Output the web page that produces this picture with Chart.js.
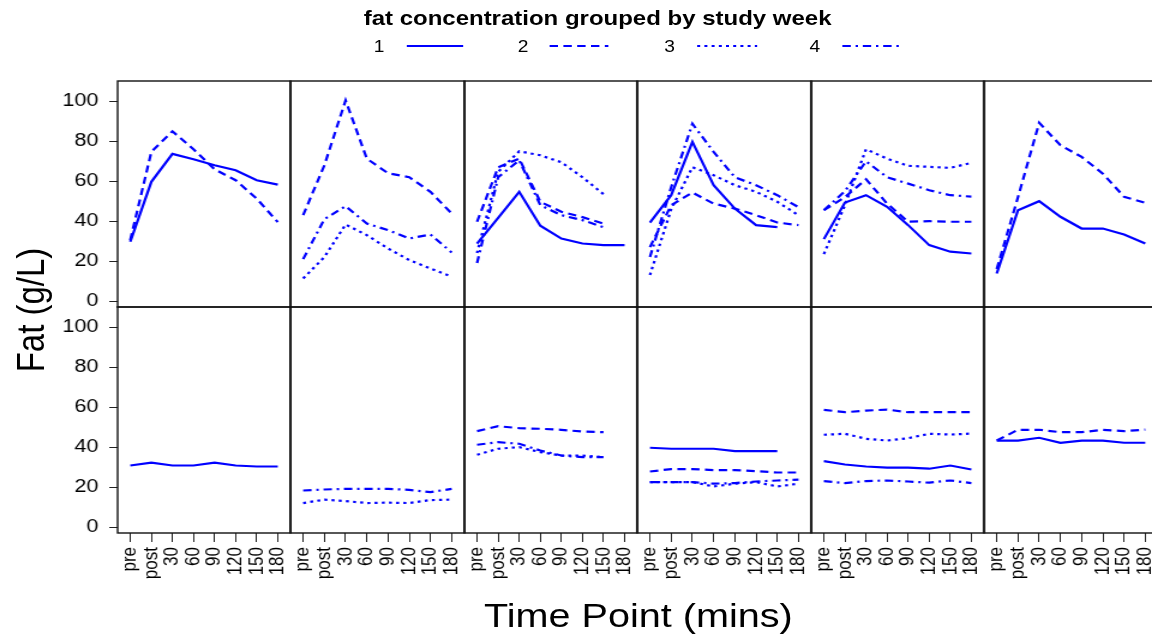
<!DOCTYPE html>
<html>
<head>
<meta charset="utf-8">
<script src="https://cdn.jsdelivr.net/npm/chart.js@4/dist/chart.umd.min.js"></script>
<style>
  html, body { margin: 0; padding: 0; background: #fff; }
  body { width: 1152px; height: 641px; overflow: hidden; position: relative; }
  #fig {
    position: absolute; left: 0; top: 0; width: 960px; height: 641px;
    transform: scaleX(1.2); transform-origin: 0 0;
    font-family: "Liberation Sans", Arial, sans-serif;
  }
  .panel { position: absolute; }
  .panel canvas { display: block; }
  #overlay { position: absolute; left: 0; top: 0; }
</style>
</head>
<body>
<div id="fig">
  <svg id="overlay" width="960" height="641">
    <text x="498" y="25" text-anchor="middle" font-size="20" font-weight="bold">fat concentration grouped by study week</text>
    <g font-size="16" text-anchor="middle">
      <text x="316" y="52">1</text>
      <text x="436" y="52">2</text>
      <text x="558" y="52">3</text>
      <text x="679" y="52">4</text>
    </g>
    <g stroke="#0000ff" stroke-width="2.2" fill="none">
      <line x1="339" y1="46" x2="386" y2="46"/>
      <line x1="458" y1="46" x2="507" y2="46" stroke-dasharray="7 4.5"/>
      <line x1="581" y1="46" x2="631" y2="46" stroke-dasharray="2.5 3.5"/>
      <line x1="702" y1="46" x2="750" y2="46" stroke-dasharray="7 4 2 4"/>
    </g>
    <text transform="translate(37,310) rotate(-90)" text-anchor="middle" font-size="33">Fat (g/L)</text>
    <text x="532" y="627" text-anchor="middle" font-size="33">Time Point (mins)</text>
  </svg>
</div>
<script>
// time points along each panel's x axis
const timePoints = ["pre", "post", "30", "60", "90", "120", "150", "180"];
const weeks = ["1", "2", "3", "4"];
const yTicks = [0, 20, 40, 60, 80, 100];

// fat (g/L) per panel, one row per study week (null = week not sampled)
const top1 = [
  [29.7, 59.7, 73.7, 71, 68, 65.5, 60.5, 58.3],
  [30.5, 74.7, 85, 76, 66, 60.5, 51.3, 39.5],
  null,
  null
];
const top2 = [
  null,
  [43, 68, 100.5, 71.3, 64, 62, 54.7, 43.8],
  [11.3, 22, 38.3, 33, 26.3, 20.5, 16.3, 12.2],
  [21, 41, 47.5, 38.8, 35.5, 31.3, 33.3, 24.3]
];
const top3 = [
  [28.8, 41.7, 54.7, 37.7, 31.3, 28.8, 28, 28],
  [39.7, 67, 71.3, 49.7, 44.7, 42, 38.8, null],
  [24, 64.7, 75, 73, 69.5, 62, 53.5, null],
  [19, 62, 70.5, 48, 43, 40.5, 37, null]
];
const top4 = [
  [39.3, 53, 79.7, 58, 46.3, 38, 37, null],
  [27, 48, 54.3, 48.8, 46.3, 43, 39.3, 38],
  [13, 46, 67, 63, 58, 54.7, 49.7, 43],
  [22, 57, 88.8, 74.7, 62, 58, 53, 47]
];
const top5 = [
  [31, 49.3, 53, 47.2, 38, 28, 24.7, 23.8],
  [45.5, 52, 61, 48.8, 39.7, 40, 39.7, 39.7],
  [23.5, 48, 76, 71.3, 67.7, 67.2, 66.7, 69.2],
  [45.5, 55, 70, 62, 58.8, 55.5, 53, 52.3]
];
const top6 = [
  [13.8, 45.5, 50, 42.2, 36.3, 36.3, 33.3, 28.8],
  [16, 52, 89.3, 78, 72.2, 63.8, 52.2, 49.2],
  null,
  null
];
const bottom1 = [
  [30.8, 32.2, 30.8, 30.8, 32.2, 30.8, 30.3, 30.3],
  null,
  null,
  null
];
const bottom2 = [
  null,
  null,
  [12, 13.7, 13, 12, 12.2, 12, 13.5, 13.7],
  [18.3, 18.8, 19.1, 19.1, 19.1, 18.6, 17.5, 19.1]
];
const bottom3 = [
  null,
  [48, 50.5, 49.5, 49.2, 48.7, 47.8, 47.5, null],
  [36.2, 39.2, 40, 37.5, 35.8, 35.8, 35, null],
  [41.2, 42.5, 41.7, 38.3, 35.8, 35, 35, null]
];
const bottom4 = [
  [39.7, 39.2, 39.2, 39.2, 38, 38, 38, null],
  [27.8, 29, 29, 28.5, 28.5, 28, 27.3, 27.3],
  [22.5, 22.5, 22.5, 20.3, 21.7, 22.5, 20.3, 21.7],
  [22.5, 22.5, 22.5, 21.7, 22, 22.8, 23.3, 23.7]
];
const bottom5 = [
  [33, 31.3, 30.3, 29.7, 29.7, 29.2, 30.8, 28.8],
  [58.7, 57.5, 58.3, 58.8, 57.5, 57.5, 57.5, 57.5],
  [46.2, 46.7, 44.2, 43.3, 44.5, 46.7, 46.3, 46.8],
  [23, 22, 23, 23.3, 22.8, 22.2, 23.3, 22]
];
const bottom6 = [
  [43.3, 43.3, 44.7, 42.2, 43.3, 43.3, 42.2, 42.2],
  [43.3, 48.7, 48.7, 47.5, 47.5, 48.7, 48, 48.8],
  null,
  null
];

const rows = [
  [top1, top2, top3, top4, top5, top6],
  [bottom1, bottom2, bottom3, bottom4, bottom5, bottom6]
];

const weekDash = [[], [7, 4.5], [2.5, 3.5], [7, 4, 2, 4]];
const lineColor = "#0000ff";
const fontFamily = '"Liberation Sans", Arial, sans-serif';

// lattice geometry (unstretched px)
const PANEL_X0 = 97.5, PANEL_W = 144.54, PANEL_H = 226;
const ROW_TOP = [81, 307];
const AXIS_W = 75, AXIS_H = 80, PAD = 2;

const framePlugin = {
  id: "panelFrame",
  afterDraw(chart) {
    const { ctx, chartArea: a } = chart;
    ctx.save();
    ctx.strokeStyle = "#111";
    ctx.lineWidth = 1.4;
    ctx.strokeRect(a.left, a.top, a.right - a.left, a.bottom - a.top);
    ctx.restore();
  }
};

const fig = document.getElementById("fig");

rows.forEach((panels, r) => {
  panels.forEach((series, c) => {
    const firstCol = c === 0;
    const lastRow = r === 1;
    const panelLeft = Math.round(PANEL_X0 + c * PANEL_W);
    const panelRight = Math.round(PANEL_X0 + (c + 1) * PANEL_W);
    const left = panelLeft - (firstCol ? AXIS_W : PAD);
    const top = ROW_TOP[r] - PAD;
    const width = panelRight - left + PAD;
    const height = PANEL_H + PAD + (lastRow ? AXIS_H : PAD);

    const box = document.createElement("div");
    box.className = "panel";
    box.style.left = left + "px";
    box.style.top = top + "px";
    const canvas = document.createElement("canvas");
    canvas.width = width;
    canvas.height = height;
    canvas.style.width = width + "px";
    canvas.style.height = height + "px";
    box.appendChild(canvas);
    fig.appendChild(box);

    const datasets = [];
    series.forEach((vals, w) => {
      if (!vals) return;
      datasets.push({
        label: weeks[w],
        data: vals.map((v, i) => ({ x: i, y: v })),
        borderColor: lineColor,
        borderWidth: 2.2,
        borderDash: weekDash[w],
        pointRadius: 0,
        tension: 0,
        spanGaps: false,
        fill: false
      });
    });

    new Chart(canvas, {
      type: "line",
      data: { datasets },
      plugins: [framePlugin],
      options: {
        responsive: false,
        maintainAspectRatio: false,
        animation: false,
        events: [],
        layout: {
          padding: {
            left: firstCol ? 0 : PAD,
            right: PAD,
            top: PAD,
            bottom: lastRow ? 0 : PAD
          }
        },
        plugins: { legend: { display: false }, tooltip: { enabled: false } },
        scales: {
          x: {
            type: "linear",
            min: -0.6,
            max: 7.6,
            display: lastRow,
            afterBuildTicks: (s) => { s.ticks = timePoints.map((_, i) => ({ value: i })); },
            afterFit: (s) => {
              s.height = lastRow ? AXIS_H : 0;
              s.paddingLeft = 0;
              s.paddingRight = 0;
            },
            grid: { drawOnChartArea: false, drawTicks: true, tickLength: 9, color: "#222" },
            border: { display: false },
            ticks: {
              autoSkip: false,
              minRotation: 90,
              maxRotation: 90,
              padding: 5,
              color: "#000",
              font: { family: fontFamily, size: 17 },
              callback: (v) => timePoints[v]
            }
          },
          y: {
            min: -3,
            max: 110.2,
            display: firstCol,
            afterBuildTicks: (s) => { s.ticks = yTicks.map((v) => ({ value: v })); },
            afterFit: (s) => {
              s.width = firstCol ? AXIS_W : 0;
              s.paddingTop = 0;
              s.paddingBottom = 0;
            },
            grid: { drawOnChartArea: false, drawTicks: true, tickLength: 7, color: "#222" },
            border: { display: false },
            ticks: {
              padding: 9,
              color: "#000",
              font: { family: fontFamily, size: 18 }
            }
          }
        }
      }
    });
  });
});
</script>
</body>
</html>
